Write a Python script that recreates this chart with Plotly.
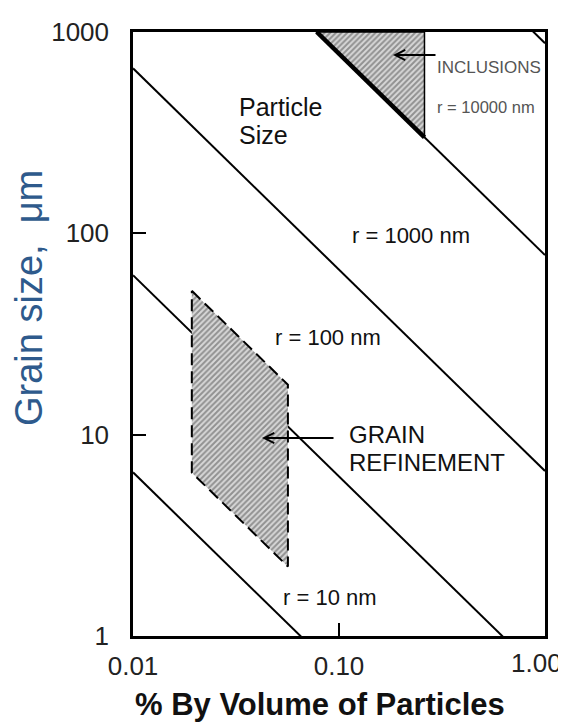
import numpy as np
import plotly.graph_objects as go

# ---- data ----
x_ticks = [0.01, 0.1, 1.0]
x_tick_labels = ["0.01", "0.10", "1.00"]
y_ticks = [1, 10, 100, 1000]
y_tick_labels = ["1", "10", "100", "1000"]

# Zener-type lines: grain size = k / volume%
line_names = ["r = 10 nm", "r = 100 nm", "r = 1000 nm", "r = 10000 nm", "r = 100000 nm"]
line_k = [0.065, 0.62, 6.6, 78, 880]
f_span = [0.01, 1.0]

# Inclusions region (bounded by r = 10000 nm line, top of chart, vertical at f)
incl_f = [0.078, 0.26]
incl_k = 78
incl_top = 1000

# Grain refinement region (parallelogram)
gr_f = [0.0193, 0.0565]
gr_k_top = 1.0
gr_k_bot = 0.125

# ---- geometry (page has an 8px body margin) ----
OFF = 8
W, H = 566, 724
L, R, T, B = 133, 21, 32, 88
PW, PH = W - L - R, H - T - B


def px(xp):
    return (xp - L) / PW


def py(yp):
    return (H - B - yp) / PH


fig = go.Figure()

for name, k in zip(line_names, line_k):
    xs = np.array(f_span)
    fig.add_trace(go.Scatter(x=xs, y=k / xs, mode="lines", name=name,
                             line=dict(color="black", width=2), showlegend=False,
                             hoverinfo="skip"))

HATCH = dict(shape="/", fgcolor="#4a4a4a", bgcolor="#d8d8d8", size=4, solidity=0.5)

# inclusions triangle
ix = [incl_f[0], incl_f[1], incl_f[1], incl_f[0]]
iy = [incl_top, incl_top, incl_k / incl_f[1], incl_top]
fig.add_trace(go.Scatter(x=ix, y=iy, mode="lines", fill="toself",
                         fillpattern=HATCH,
                         line=dict(color="black", width=1.5), showlegend=False,
                         hoverinfo="skip"))
fig.add_trace(go.Scatter(x=incl_f, y=[incl_k / incl_f[0], incl_k / incl_f[1]], mode="lines",
                         line=dict(color="black", width=4.5), showlegend=False,
                         hoverinfo="skip"))

# grain refinement parallelogram
gx = [gr_f[0], gr_f[1], gr_f[1], gr_f[0], gr_f[0]]
gy = [gr_k_top / gr_f[0], gr_k_top / gr_f[1], gr_k_bot / gr_f[1], gr_k_bot / gr_f[0],
      gr_k_top / gr_f[0]]
fig.add_trace(go.Scatter(x=gx, y=gy, mode="lines", fill="toself",
                         fillpattern=HATCH,
                         line=dict(color="black", width=2, dash="12px,6px"),
                         showlegend=False, hoverinfo="skip"))

FONT = "Liberation Sans, Arial, sans-serif"
TICKFONT = dict(family=FONT, size=26, color="#222222")
ann = []


def text(s, x, y, size, color="#111111", xanchor="center"):
    ann.append(dict(text=s, x=px(x), y=py(y),
                    xref="paper", yref="paper", showarrow=False, xanchor=xanchor,
                    yanchor="middle", font=dict(family=FONT, size=size, color=color)))


text("Particle", 237, 107, 25, xanchor="left")
text("Size", 237, 135, 25, xanchor="left")
text("r = 1000 nm", 411, 235, 22)
text("r = 100 nm", 328, 337, 22)
text("r = 10 nm", 330, 597, 22)
text("INCLUSIONS", 435, 67, 17, color="#555555", xanchor="left")
text("r = 10000 nm", 435, 107, 16.5, color="#555555", xanchor="left")
text("GRAIN", 347, 434, 24, xanchor="left")
text("REFINEMENT", 347, 462, 24, xanchor="left")

# last x tick label, kept inside the page at the right edge
ann.append(dict(text=x_tick_labels[-1], x=px(W - 2), y=py(663), xref="paper", yref="paper",
                showarrow=False, xanchor="right", yanchor="middle", font=TICKFONT))

# arrows
ann.append(dict(x=px(393), y=py(55), xref="paper", yref="paper", ax=44, ay=0,
                showarrow=True, arrowhead=5, arrowsize=1.1, arrowwidth=1.8, arrowcolor="black",
                text=""))
ann.append(dict(x=px(262), y=py(438), xref="paper", yref="paper", ax=73, ay=0,
                showarrow=True, arrowhead=5, arrowsize=1.1, arrowwidth=1.8, arrowcolor="black",
                text=""))

# axis titles
ann.append(dict(text="Grain size,  μm", x=px(29), y=py(298), xref="paper", yref="paper",
                showarrow=False, textangle=-90, xanchor="center", yanchor="middle",
                font=dict(family=FONT, size=38, color="#2e5a8c")))
ann.append(dict(text="<b>% By Volume of Particles</b>", x=px(320), y=py(704), xref="paper",
                yref="paper", showarrow=False, xanchor="center", yanchor="middle",
                font=dict(family=FONT, size=31, color="#111111")))

fig.update_layout(
    width=W - OFF, height=H - OFF,
    margin=dict(l=L - OFF, r=R, t=T - OFF, b=B, autoexpand=False),
    paper_bgcolor="white", plot_bgcolor="white",
    annotations=ann,
    xaxis=dict(type="log", range=[-2, 0], tickvals=x_ticks,
               ticktext=x_tick_labels[:-1] + [""],
               ticks="inside", ticklen=13, tickwidth=2, tickcolor="black",
               ticklabelstandoff=5,
               showline=True, linecolor="black", linewidth=2.5, mirror=True,
               showgrid=False, zeroline=False, tickfont=TICKFONT),
    yaxis=dict(type="log", range=[0, 3], tickvals=y_ticks, ticktext=y_tick_labels,
               ticks="inside", ticklen=13, tickwidth=2, tickcolor="black",
               ticklabelstandoff=16,
               showline=True, linecolor="black", linewidth=2.5, mirror=True,
               showgrid=False, zeroline=False, tickfont=TICKFONT),
)

fig.write_html("out.html")
